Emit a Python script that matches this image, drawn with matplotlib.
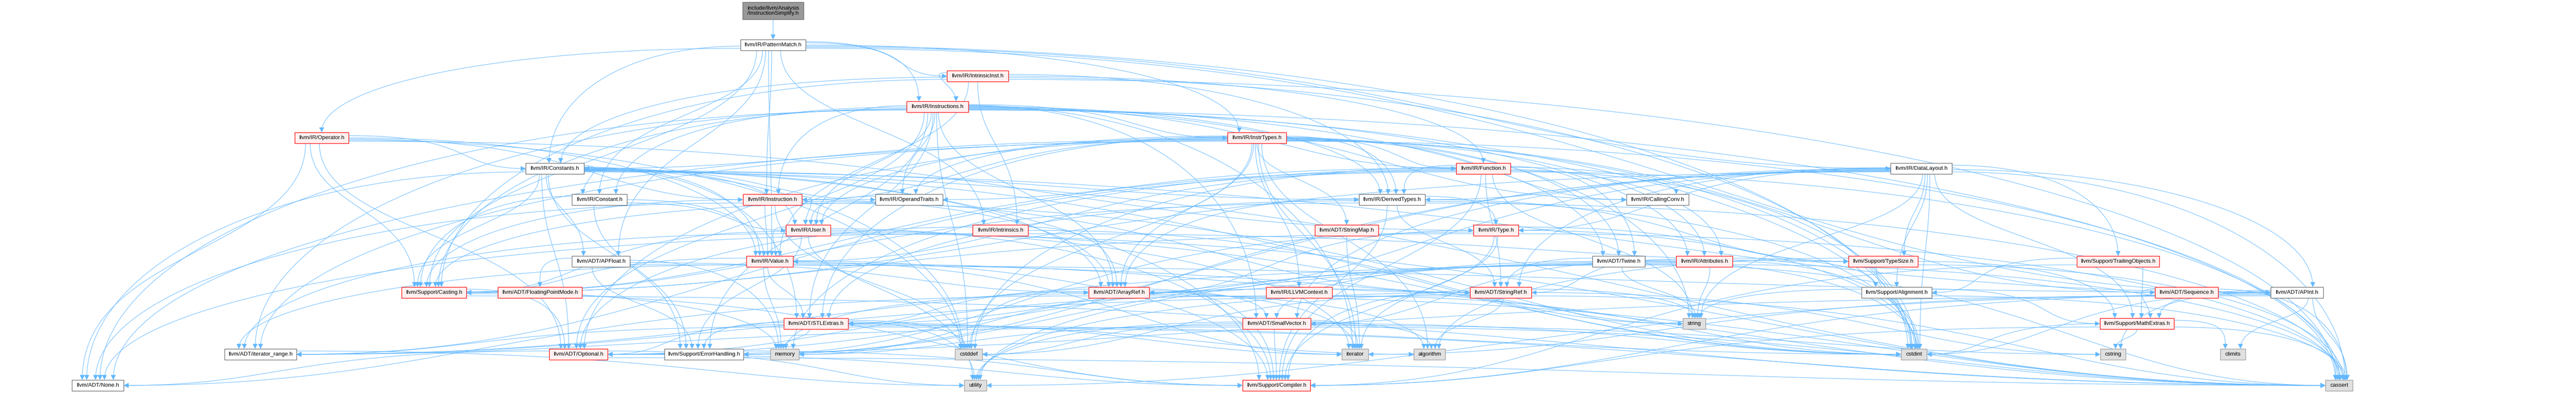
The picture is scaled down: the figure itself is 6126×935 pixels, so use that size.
import numpy as np
import matplotlib
matplotlib.use("Agg")
import matplotlib.pyplot as plt
from matplotlib.patches import Rectangle, FancyArrowPatch
from matplotlib.path import Path

# node labels (short key -> text)
labels = {
    "root": "include/llvm/Analysis\n/InstructionSimplify.h",
    "PM": "llvm/IR/PatternMatch.h",
    "II": "llvm/IR/IntrinsicInst.h",
    "INS": "llvm/IR/Instructions.h",
    "OP": "llvm/IR/Operator.h",
    "IT": "llvm/IR/InstrTypes.h",
    "CS": "llvm/IR/Constants.h",
    "FN": "llvm/IR/Function.h",
    "DL": "llvm/IR/DataLayout.h",
    "C": "llvm/IR/Constant.h",
    "I": "llvm/IR/Instruction.h",
    "OT": "llvm/IR/OperandTraits.h",
    "DT": "llvm/IR/DerivedTypes.h",
    "CC": "llvm/IR/CallingConv.h",
    "U": "llvm/IR/User.h",
    "INT": "llvm/IR/Intrinsics.h",
    "SM": "llvm/ADT/StringMap.h",
    "T": "llvm/IR/Type.h",
    "V": "llvm/IR/Value.h",
    "APF": "llvm/ADT/APFloat.h",
    "TW": "llvm/ADT/Twine.h",
    "AT": "llvm/IR/Attributes.h",
    "TS": "llvm/Support/TypeSize.h",
    "TO": "llvm/Support/TrailingObjects.h",
    "CA": "llvm/Support/Casting.h",
    "FPM": "llvm/ADT/FloatingPointMode.h",
    "AR": "llvm/ADT/ArrayRef.h",
    "CTX": "llvm/IR/LLVMContext.h",
    "SR": "llvm/ADT/StringRef.h",
    "AL": "llvm/Support/Alignment.h",
    "SEQ": "llvm/ADT/Sequence.h",
    "API": "llvm/ADT/APInt.h",
    "STL": "llvm/ADT/STLExtras.h",
    "SV": "llvm/ADT/SmallVector.h",
    "string": "string",
    "MX": "llvm/Support/MathExtras.h",
    "IR": "llvm/ADT/iterator_range.h",
    "OPT": "llvm/ADT/Optional.h",
    "EH": "llvm/Support/ErrorHandling.h",
    "memory": "memory",
    "cstddef": "cstddef",
    "iterator": "iterator",
    "algorithm": "algorithm",
    "cstdint": "cstdint",
    "cstring": "cstring",
    "climits": "climits",
    "None": "llvm/ADT/None.h",
    "utility": "utility",
    "COMP": "llvm/Support/Compiler.h",
    "cassert": "cassert",
}

# node kind: root / red (truncated) / white / sys
red_nodes = ["II", "INS", "OP", "IT", "FN", "I", "U", "INT", "SM", "T", "V", "AT", "TS",
             "TO", "CA", "FPM", "AR", "CTX", "SR", "SEQ", "STL", "SV", "MX", "OPT", "COMP"]
sys_nodes = ["string", "memory", "cstddef", "iterator", "algorithm", "cstdint", "cstring",
             "climits", "utility", "cassert"]

# include edges
includes = {
    "root": ["PM"],
    "PM": ["APF", "API", "C", "CS", "DL", "IT", "I", "INS", "II", "INT", "OP", "V", "CA", "cstdint"],
    "II": ["CS", "DT", "FN", "INS", "INT", "V", "CA", "cassert", "cstdint"],
    "INS": ["AR", "None", "STL", "SV", "TW", "iterator", "IR", "AT", "CC", "C", "DT", "FN", "IT",
            "I", "OT", "U", "CA", "EH", "cassert", "cstddef", "cstdint", "OPT"],
    "OP": ["None", "CS", "I", "T", "V", "CA", "cstddef", "OPT"],
    "IT": ["AR", "None", "OPT", "STL", "SEQ", "SM", "TW", "IR", "AT", "CC", "CS", "DT", "FN", "I",
           "CTX", "OT", "U", "algorithm", "cassert", "cstddef", "cstdint", "iterator", "string"],
    "CS": ["APF", "API", "AR", "None", "OPT", "STL", "C", "DT", "OT", "U", "V", "CA", "COMP", "EH",
           "cassert", "cstddef", "cstdint"],
    "FN": ["SR", "TW", "IR", "AT", "CC", "DT", "OT", "V", "CA", "COMP", "cassert", "cstddef",
           "cstdint", "memory", "string"],
    "DL": ["API", "AR", "STL", "SV", "SR", "DT", "T", "CA", "EH", "MX", "AL", "TO", "TS", "cassert",
           "cstdint", "string"],
    "C": ["U", "V", "CA", "EH"],
    "I": ["AR", "None", "SR", "U", "V", "CA", "cstdint", "utility"],
    "OT": ["U", "CA"],
    "DT": ["AR", "STL", "SR", "T", "CA", "COMP", "TS", "cassert", "cstdint"],
    "U": ["iterator", "IR", "V", "CA", "COMP", "EH", "cassert", "cstddef", "cstdint"],
    "INT": ["AR", "None", "OPT", "TS", "string"],
    "SM": ["iterator"],
    "T": ["AR", "CA", "COMP", "EH", "TS", "cassert", "cstdint", "iterator"],
    "V": ["STL", "SR", "IR", "CA", "COMP", "cassert", "iterator", "memory"],
    "APF": ["API", "AR", "FPM", "EH", "memory"],
    "TW": ["SV", "SR", "EH", "cassert", "cstdint", "string"],
    "AT": ["AR", "OPT", "SV", "SR", "IR", "AL", "cassert", "cstdint", "string", "utility"],
    "TS": ["MX", "algorithm", "cassert", "cstdint"],
    "TO": ["AL", "COMP", "MX"],
    "CA": ["COMP", "cassert", "memory", "OPT"],
    "AR": ["None", "SV", "STL", "COMP", "algorithm", "cassert", "cstddef", "iterator", "memory"],
    "CTX": ["cstdint", "memory", "string", "OPT"],
    "SR": ["IR", "COMP", "algorithm", "cassert", "cstddef", "cstring", "string", "utility"],
    "AL": ["MX", "cassert", "string"],
    "SEQ": ["MX", "cassert", "iterator"],
    "API": ["COMP", "MX", "cassert", "climits", "cstdint", "cstring", "utility", "OPT"],
    "STL": ["OPT", "IR", "EH", "algorithm", "cassert", "cstddef", "cstdint", "iterator", "memory",
            "utility"],
    "SV": ["IR", "COMP", "algorithm", "cassert", "cstddef", "cstdint", "cstring", "iterator",
           "memory", "utility"],
    "MX": ["COMP", "cassert", "climits", "cstdint", "cstring"],
    "IR": ["utility"],
    "OPT": ["None", "COMP", "cassert", "utility"],
    "EH": ["COMP"],
}

# layout: x left, x right, row (pixel coords)
row_top = [5, 94, 168, 241, 315, 388, 462, 535, 609, 683, 757, 830, 904]
layout = {
    "root": (1766, 1911, 0), "PM": (1761, 1916, 1), "II": (2252, 2398, 2),
    "INS": (2156, 2303, 3), "OP": (701, 829, 4), "IT": (2919, 3059, 4),
    "CS": (1250, 1389, 5), "FN": (3463, 3592, 5), "DL": (4496, 4642, 5),
    "C": (1360, 1491, 6), "I": (1767, 1907, 6), "OT": (2082, 2242, 6),
    "DT": (3232, 3389, 6), "CC": (3868, 4016, 6),
    "U": (1869, 1975, 7), "INT": (2313, 2445, 7), "SM": (3127, 3278, 7), "T": (3504, 3611, 7),
    "V": (1775, 1886, 8), "APF": (1360, 1498, 8), "TW": (3787, 3912, 8), "AT": (3986, 4120, 8),
    "TS": (4396, 4561, 8), "TO": (4939, 5135, 8),
    "CA": (955, 1109, 9), "FPM": (1184, 1384, 9), "AR": (2589, 2733, 9), "CTX": (3011, 3168, 9),
    "SR": (3496, 3642, 9), "AL": (4427, 4594, 9), "SEQ": (5125, 5275, 9), "API": (5400, 5525, 9),
    "STL": (1864, 2017, 10), "SV": (2955, 3117, 10), "string": (4002, 4056, 10),
    "MX": (4994, 5170, 10),
    "IR": (534, 705, 11), "OPT": (1306, 1445, 11), "EH": (1580, 1768, 11),
    "memory": (1832, 1900, 11), "cstddef": (2271, 2336, 11), "iterator": (3191, 3254, 11),
    "algorithm": (3362, 3437, 11), "cstdint": (4521, 4582, 11), "cstring": (4995, 5055, 11),
    "climits": (5280, 5340, 11),
    "None": (171, 294, 12), "utility": (2293, 2346, 12), "COMP": (2955, 3116, 12),
    "cassert": (5530, 5595, 12),
}

W, H = 6126, 935
edge_col = "#63b8ff"

fig = plt.figure(figsize=(W / 100, H / 100), dpi=100)
ax = fig.add_axes([0, 0, 1, 1])
ax.set_xlim(0, W)
ax.set_ylim(H, 0)
ax.axis("off")


def box(k):
    x0, x1, r = layout[k]
    y0 = row_top[r]
    h = 41 if k == "root" else 26
    return x0, x1, y0, y0 + h


def cx(k):
    x0, x1, _, _ = box(k)
    return (x0 + x1) / 2


out_pts, in_pts = {}, {}
for src, tgts in includes.items():
    for t in tgts:
        out_pts.setdefault(src, []).append(t)
        in_pts.setdefault(t, []).append(src)


def slot(k, others, other, frac=0.6):
    x0, x1, _, _ = box(k)
    order = sorted(others, key=cx)
    n = len(order)
    if n == 1:
        return (x0 + x1) / 2
    f = order.index(other) / (n - 1)
    w = (x1 - x0) * frac
    return (x0 + x1) / 2 - w / 2 + f * w


for src, tgts in includes.items():
    sx0, sx1, sy0, sy1 = box(src)
    for t in tgts:
        tx0, tx1, ty0, ty1 = box(t)
        tcx = (tx0 + tx1) / 2
        scx = (sx0 + sx1) / 2
        dy = ty0 - sy1
        dx = tcx - scx
        if abs(dx) > 1.6 * dy:
            # leave from the side of the source box
            side = [o for o in out_pts[src] if np.sign(cx(o) - scx) == np.sign(dx)]
            side.sort(key=lambda o: abs(cx(o) - scx))
            j = side.index(t) / max(len(side) - 1, 1)
            p0 = (sx1 if dx > 0 else sx0, sy0 + 5 + j * (sy1 - sy0 - 10))
            c1 = (p0[0] + np.sign(dx) * abs(dx) * 0.55, p0[1])
        else:
            px = slot(src, out_pts[src], t)
            p0 = (px, sy1)
            c1 = (px, sy1 + dy * 0.45)
        dx2 = tcx - p0[0]
        dy2 = ty0 - p0[1]
        if abs(dx2) > 6 * dy2:
            # come in from the side
            ex = tx0 if dx2 > 0 else tx1
            ey = (ty0 + ty1) / 2
            p3 = (ex, ey)
            c2 = (ex - np.sign(dx2) * abs(dx2) * 0.35, ey)
        else:
            qx = slot(t, in_pts[t], src)
            p3 = (qx, ty0)
            c2 = (qx, ty0 - dy2 * 0.55)
        path = Path([p0, c1, c2, p3], [Path.MOVETO, Path.CURVE4, Path.CURVE4, Path.CURVE4])
        arr = FancyArrowPatch(path=path, arrowstyle="-|>,head_length=0.9,head_width=0.45",
                              mutation_scale=8, color=edge_col, lw=0.8, zorder=1)
        ax.add_patch(arr)

for k, text in labels.items():
    x0, x1, y0, y1 = box(k)
    if k == "root":
        fc, ec = "#999999", "#666666"
    elif k in red_nodes:
        fc, ec = "#fff0f0", "#ff0000"
    elif k in sys_nodes:
        fc, ec = "#e0e0e0", "#999999"
    else:
        fc, ec = "#ffffff", "#666666"
    ax.add_patch(Rectangle((x0, y0), x1 - x0, y1 - y0, facecolor=fc, edgecolor=ec,
                           lw=1.0, zorder=3))
    ax.text((x0 + x1) / 2, (y0 + y1) / 2, text, ha="center", va="center",
            fontsize=9.6, family="Liberation Sans", color="black", zorder=4,
            linespacing=1.0)

fig.savefig("out.png", dpi=100)
